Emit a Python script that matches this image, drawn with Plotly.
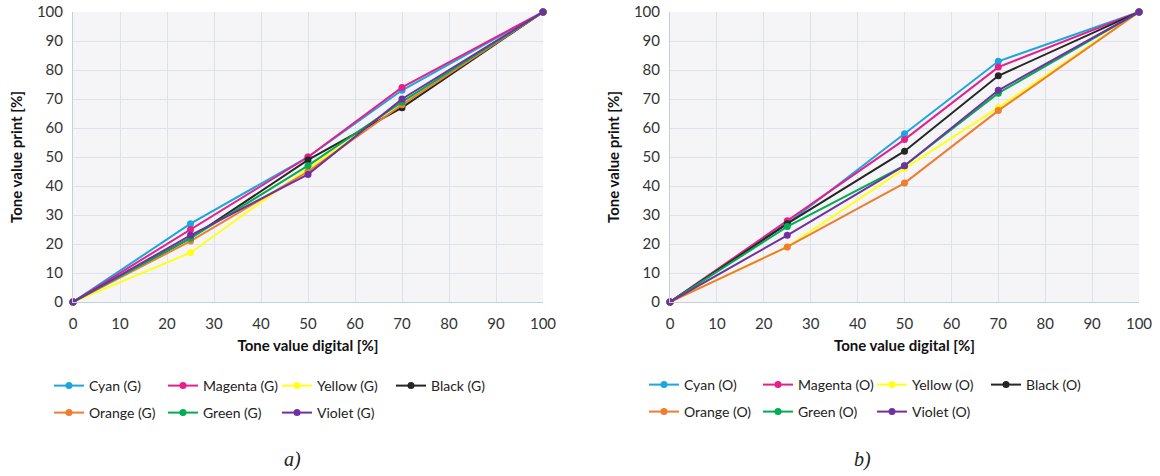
import plotly.graph_objects as go

# Tone value curves: digital tone value vs. measured print tone value
tone_digital = [0, 25, 50, 70, 100]

inks = ["Cyan", "Magenta", "Yellow", "Black", "Orange", "Green", "Violet"]
ink_colors = ["#1ba6df", "#e3208c", "#ffff1a", "#262626", "#ef7d2f", "#00ad50", "#7030a0"]

# Printed tone values, series (G)
cyan_g = [0, 27, 50, 73, 100]
magenta_g = [0, 25, 50, 74, 100]
yellow_g = [0, 17, 46, 68, 100]
black_g = [0, 22, 49, 67, 100]
orange_g = [0, 21, 45, 68, 100]
green_g = [0, 22, 47, 69, 100]
violet_g = [0, 23, 44, 70, 100]

# Printed tone values, series (O)
cyan_o = [0, 27, 58, 83, 100]
magenta_o = [0, 28, 56, 81, 100]
yellow_o = [0, 19, 46, 67, 100]
black_o = [0, 27, 52, 78, 100]
orange_o = [0, 19, 41, 66, 100]
green_o = [0, 26, 47, 72, 100]
violet_o = [0, 23, 47, 73, 100]

series_g = [cyan_g, magenta_g, yellow_g, black_g, orange_g, green_g, violet_g]
series_o = [cyan_o, magenta_o, yellow_o, black_o, orange_o, green_o, violet_o]

axis_ticks = [0, 10, 20, 30, 40, 50, 60, 70, 80, 90, 100]

FONT = "Lato"
W, H = 1160, 476

fig = go.Figure()


def add_panel(series, suffix, xa, ya, legends):
    for i, (name, color, vals) in enumerate(zip(inks, ink_colors, series)):
        fig.add_trace(go.Scatter(
            x=tone_digital, y=vals, name=f"{name} ({suffix})",
            mode="lines+markers",
            line=dict(color=color, width=2),
            marker=dict(color=color, size=7),
            xaxis=xa, yaxis=ya, cliponaxis=False,
            legend=legends[0] if i < 4 else legends[1],
        ))


add_panel(series_g, "G", "x", "y", ["legend", "legend2"])
add_panel(series_o, "O", "x2", "y2", ["legend3", "legend4"])

y_dom = [1 - 302 / H, 1 - 12 / H]
x_dom_a = [73 / W, 543 / W]
x_dom_b = [670 / W, 1139 / W]

axis_common = dict(
    range=[0, 100], tickvals=axis_ticks, showgrid=True, gridcolor="#dde2ea",
    gridwidth=1, zeroline=False, showline=True, linecolor="#c5cedb", linewidth=1,
    ticks="", tickfont=dict(family=FONT, size=15, color="#333333"), automargin=False,
)
xtitle = dict(text="<b>Tone value digital [%]</b>", font=dict(family=FONT, size=15, color="#111111"), standoff=9)
ytitle = dict(text="<b>Tone value print [%]</b>", font=dict(family=FONT, size=15, color="#111111"), standoff=10)

legend_common = dict(
    orientation="h", xref="paper", yref="paper", xanchor="left", yanchor="middle",
    font=dict(family=FONT, size=14, color="#222222"), bgcolor="rgba(0,0,0,0)",
    entrywidth=69, entrywidthmode="pixels", itemwidth=30, borderwidth=0,
)

fig.update_layout(
    width=W, height=H, margin=dict(l=0, r=0, t=0, b=0, autoexpand=False),
    paper_bgcolor="white", plot_bgcolor="#f5f5f7",
    xaxis=dict(domain=x_dom_a, anchor="y", title=xtitle, ticklabelstandoff=8, **axis_common),
    yaxis=dict(domain=y_dom, anchor="x", title=ytitle, ticklabelstandoff=6, **axis_common),
    xaxis2=dict(domain=x_dom_b, anchor="y2", title=xtitle, ticklabelstandoff=8, **axis_common),
    yaxis2=dict(domain=y_dom, anchor="x2", title=ytitle, ticklabelstandoff=6, **axis_common),
    legend=dict(x=49 / W, y=1 - 386 / H, **legend_common),
    legend2=dict(x=49 / W, y=1 - 413 / H, **legend_common),
    legend3=dict(x=644 / W, y=1 - 385 / H, **legend_common),
    legend4=dict(x=644 / W, y=1 - 412 / H, **legend_common),
    showlegend=True,
)

for label, xc in [("a)", 292), ("b)", 862)]:
    fig.add_annotation(
        text=f"<i>{label}</i>", x=xc / W, y=1 - 459 / H, xref="paper", yref="paper",
        xanchor="center", yanchor="middle", showarrow=False,
        font=dict(family="Liberation Serif", size=20, color="#222222"),
    )

fig.write_html("out.html")
